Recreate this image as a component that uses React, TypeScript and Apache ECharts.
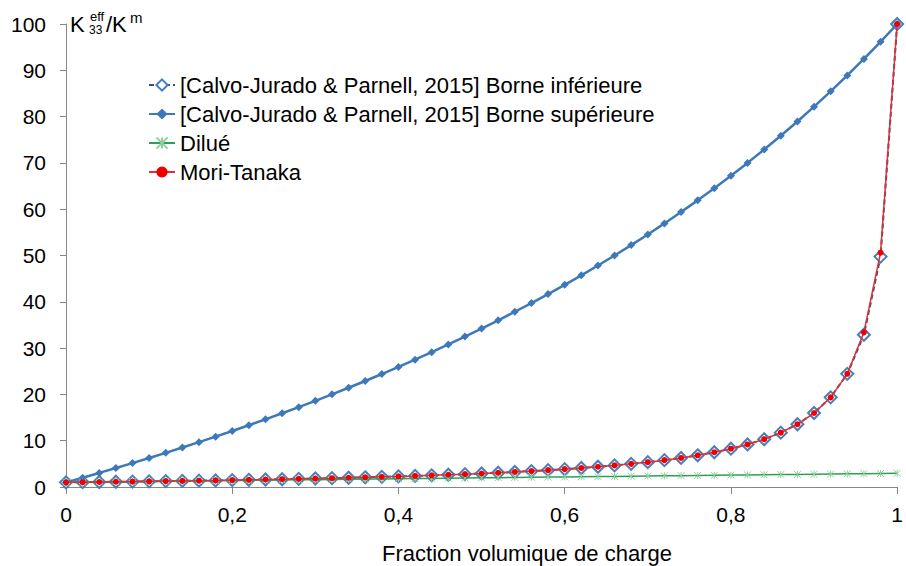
import React, { useEffect, useRef } from "react";
import * as echarts from "echarts";

const fractions: number[] = [
  0, 0.02, 0.04, 0.06, 0.08, 0.1, 0.12, 0.14, 0.16, 0.18, 0.2, 0.22, 0.24, 0.26, 0.28, 0.3, 0.32, 0.34,
  0.36, 0.38, 0.4, 0.42, 0.44, 0.46, 0.48, 0.5, 0.52, 0.54, 0.56, 0.58, 0.6, 0.62, 0.64, 0.66, 0.68,
  0.7, 0.72, 0.74, 0.76, 0.78, 0.8, 0.82, 0.84, 0.86, 0.88, 0.9, 0.92, 0.94, 0.96, 0.98, 1,
];

const borneInferieure: number[] = [
  1.0, 1.04, 1.08, 1.13, 1.17, 1.22, 1.27, 1.32, 1.37, 1.43, 1.49, 1.55, 1.62, 1.68, 1.76, 1.83, 1.91,
  2.0, 2.09, 2.19, 2.29, 2.4, 2.52, 2.64, 2.78, 2.92, 3.08, 3.25, 3.43, 3.64, 3.86, 4.1, 4.37, 4.67,
  5.0, 5.37, 5.8, 6.28, 6.84, 7.5, 8.27, 9.19, 10.32, 11.74, 13.55, 15.98, 19.36, 24.44, 32.89, 49.76, 100,
];

const borneSuperieure: number[] = [
  1.0, 2.01, 3.04, 4.09, 5.16, 6.26, 7.38, 8.52, 9.69, 10.88, 12.1, 13.34, 14.62, 15.92, 17.25, 18.61,
  20.01, 21.44, 22.9, 24.4, 25.94, 27.51, 29.12, 30.78, 32.48, 34.22, 36.01, 37.85, 39.73, 41.67, 43.67,
  45.72, 47.83, 50.01, 52.25, 54.55, 56.93, 59.38, 61.91, 64.52, 67.22, 70.0, 72.89, 75.87, 78.95,
  82.15, 85.46, 88.89, 92.45, 96.15, 100,
];

const dilue: number[] = [
  1.0, 1.04, 1.08, 1.12, 1.16, 1.2, 1.24, 1.27, 1.31, 1.35, 1.39, 1.43, 1.47, 1.51, 1.55, 1.59, 1.63,
  1.67, 1.71, 1.74, 1.78, 1.82, 1.86, 1.9, 1.94, 1.98, 2.02, 2.06, 2.1, 2.14, 2.18, 2.22, 2.25, 2.29,
  2.33, 2.37, 2.41, 2.45, 2.49, 2.53, 2.57, 2.61, 2.65, 2.69, 2.72, 2.76, 2.8, 2.84, 2.88, 2.92, 2.96,
];

const moriTanaka: number[] = [
  1.0, 1.04, 1.08, 1.13, 1.17, 1.22, 1.27, 1.32, 1.37, 1.43, 1.49, 1.55, 1.62, 1.68, 1.76, 1.83, 1.91,
  2.0, 2.09, 2.19, 2.29, 2.4, 2.52, 2.64, 2.78, 2.92, 3.08, 3.25, 3.43, 3.64, 3.86, 4.1, 4.37, 4.67,
  5.0, 5.37, 5.8, 6.28, 6.84, 7.5, 8.27, 9.19, 10.32, 11.74, 13.55, 15.98, 19.36, 24.44, 33.4, 50.6, 100,
];

const seriesNames: string[] = [
  "[Calvo-Jurado & Parnell, 2015] Borne inférieure",
  "[Calvo-Jurado & Parnell, 2015] Borne supérieure",
  "Dilué",
  "Mori-Tanaka",
];

const xTitle = "Fraction volumique de charge";

const FONT = "Liberation Sans, Arial, sans-serif";

const pairs = (ys: number[]) => fractions.map((x, i) => [x, ys[i]]);

export default function App() {
  const ref = useRef<HTMLDivElement>(null);
  useEffect(() => {
    if (!ref.current) return;
    const chart = echarts.init(ref.current, undefined, { renderer: "svg" });
    chart.setOption({
      animation: false,
      backgroundColor: "#ffffff",
      textStyle: { fontFamily: FONT },
      grid: { left: 66, right: 2, top: 24, bottom: 79, containLabel: false },
      legend: {
        orient: "vertical",
        left: 143,
        top: 69,
        itemWidth: 26,
        itemHeight: 14,
        itemGap: 7,
        textStyle: { fontSize: 22, color: "#000", fontFamily: FONT, padding: [0, 0, 0, 0] },
        data: seriesNames,
      },
      xAxis: {
        type: "value",
        min: 0,
        max: 1,
        interval: 0.2,
        axisLine: { show: true, lineStyle: { color: "#868686", width: 1 } },
        axisTick: { show: true, length: 7, lineStyle: { color: "#868686" } },
        splitLine: { show: false },
        axisLabel: {
          fontSize: 21,
          color: "#000",
          margin: 17,
          fontFamily: FONT,
          formatter: (v: number) => String(Math.round(v * 10) / 10).replace(".", ","),
        },
      },
      yAxis: {
        type: "value",
        min: 0,
        max: 100,
        interval: 10,
        axisLine: { show: true, lineStyle: { color: "#868686", width: 1 } },
        axisTick: { show: true, length: 6, lineStyle: { color: "#868686" } },
        splitLine: { show: false },
        axisLabel: { fontSize: 21, color: "#000", margin: 20, fontFamily: FONT },
      },
      graphic: [
        { type: "text", left: 70, top: 13, style: { text: "K", fontSize: 22, fill: "#000", fontFamily: FONT } },
        { type: "text", left: 90, top: 10, style: { text: "eff", fontSize: 13, fill: "#000", fontFamily: FONT } },
        { type: "text", left: 89, top: 24, style: { text: "33", fontSize: 12, fill: "#000", fontFamily: FONT } },
        { type: "text", left: 106, top: 13, style: { text: "/K", fontSize: 22, fill: "#000", fontFamily: FONT } },
        { type: "text", left: 130, top: 10, style: { text: "m", fontSize: 15, fill: "#000", fontFamily: FONT } },
        {
          type: "text",
          x: 527,
          y: 553,
          style: {
            text: xTitle,
            fontSize: 22,
            fill: "#000",
            fontFamily: FONT,
            align: "center",
            verticalAlign: "middle",
          },
        },
      ],
      series: [
        {
          name: seriesNames[0],
          type: "line",
          data: pairs(borneInferieure),
          symbol: "diamond",
          symbolSize: 12,
          clip: false,
          z: 2,
          itemStyle: { color: "#ffffff", borderColor: "#4A7EBB", borderWidth: 2 },
          lineStyle: { color: "#2F5486", width: 2, type: [5, 3] },
        },
        {
          name: seriesNames[1],
          type: "line",
          data: pairs(borneSuperieure),
          symbol: "diamond",
          symbolSize: 8,
          clip: false,
          z: 3,
          itemStyle: { color: "#3D79BA" },
          lineStyle: { color: "#3D79BA", width: 2.5 },
        },
        {
          name: seriesNames[2],
          type: "line",
          data: pairs(dilue),
          symbol: "path://M0,0L10,10M10,0L0,10M5,0L5,10",
          symbolSize: 7,
          clip: false,
          z: 4,
          itemStyle: { color: "transparent", borderColor: "#8FD19E", borderWidth: 1 },
          lineStyle: { color: "#2E9E5B", width: 1.5 },
        },
        {
          name: seriesNames[3],
          type: "line",
          data: pairs(moriTanaka),
          symbol: "circle",
          symbolSize: 6,
          clip: false,
          z: 5,
          itemStyle: { color: "#EE0000" },
          lineStyle: { color: "#E03030", width: 1.5 },
        },
      ],
    });
    return () => chart.dispose();
  }, []);
  return <div ref={ref} style={{ position: "absolute", left: 0, top: 0, width: 906, height: 566 }} />;
}
